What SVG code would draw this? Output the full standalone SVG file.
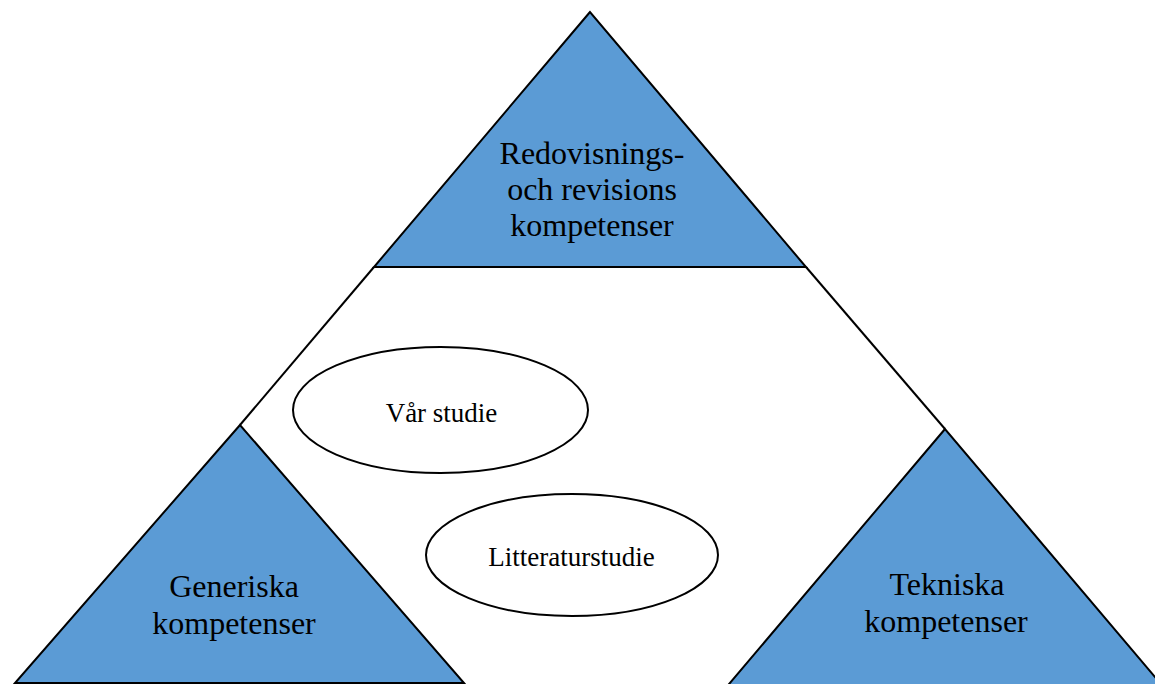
<svg xmlns="http://www.w3.org/2000/svg" width="1155" height="684" viewBox="0 0 1155 684">
  <style>
    .tri { fill: #5B9BD5; stroke: #000; stroke-width: 2; stroke-linejoin: miter; }
    .ell { fill: #fff; stroke: #000; stroke-width: 2; }
    .line { fill: none; stroke: #000; stroke-width: 2; }
    .big { font-family: "Liberation Serif", "Times New Roman", serif; font-size: 32px; fill: #000; text-anchor: middle; }
    .small { font-family: "Liberation Serif", "Times New Roman", serif; font-size: 27px; fill: #000; text-anchor: middle; }
  </style>
  <rect width="1155" height="684" fill="#fff"/>
  <g id="connectors">
    <line class="line" x1="240" y1="425" x2="374" y2="267"/>
    <line class="line" x1="806" y1="267" x2="945" y2="429"/>
  </g>
  <g id="top">
    <polygon class="tri" points="590,12 374,267 806,267"/>
    <text class="big" x="592" y="164">Redovisnings-</text>
    <text class="big" x="592" y="200">och revisions</text>
    <text class="big" x="592" y="236">kompetenser</text>
  </g>
  <g id="left">
    <polygon class="tri" points="240,425 15,683 464,683"/>
    <text class="big" x="234" y="597">Generiska</text>
    <text class="big" x="234" y="634">kompetenser</text>
  </g>
  <g id="right">
    <polygon class="tri" points="945,429 724,690 1166,690"/>
    <text class="big" x="947" y="595">Tekniska</text>
    <text class="big" x="946" y="632">kompetenser</text>
  </g>
  <g id="var-studie">
    <ellipse class="ell" cx="440.5" cy="410" rx="147.5" ry="63"/>
    <text class="small" x="441.5" y="422">Vår studie</text>
  </g>
  <g id="litteraturstudie">
    <ellipse class="ell" cx="572" cy="555" rx="146" ry="61"/>
    <text class="small" x="571.5" y="566">Litteraturstudie</text>
  </g>
</svg>
